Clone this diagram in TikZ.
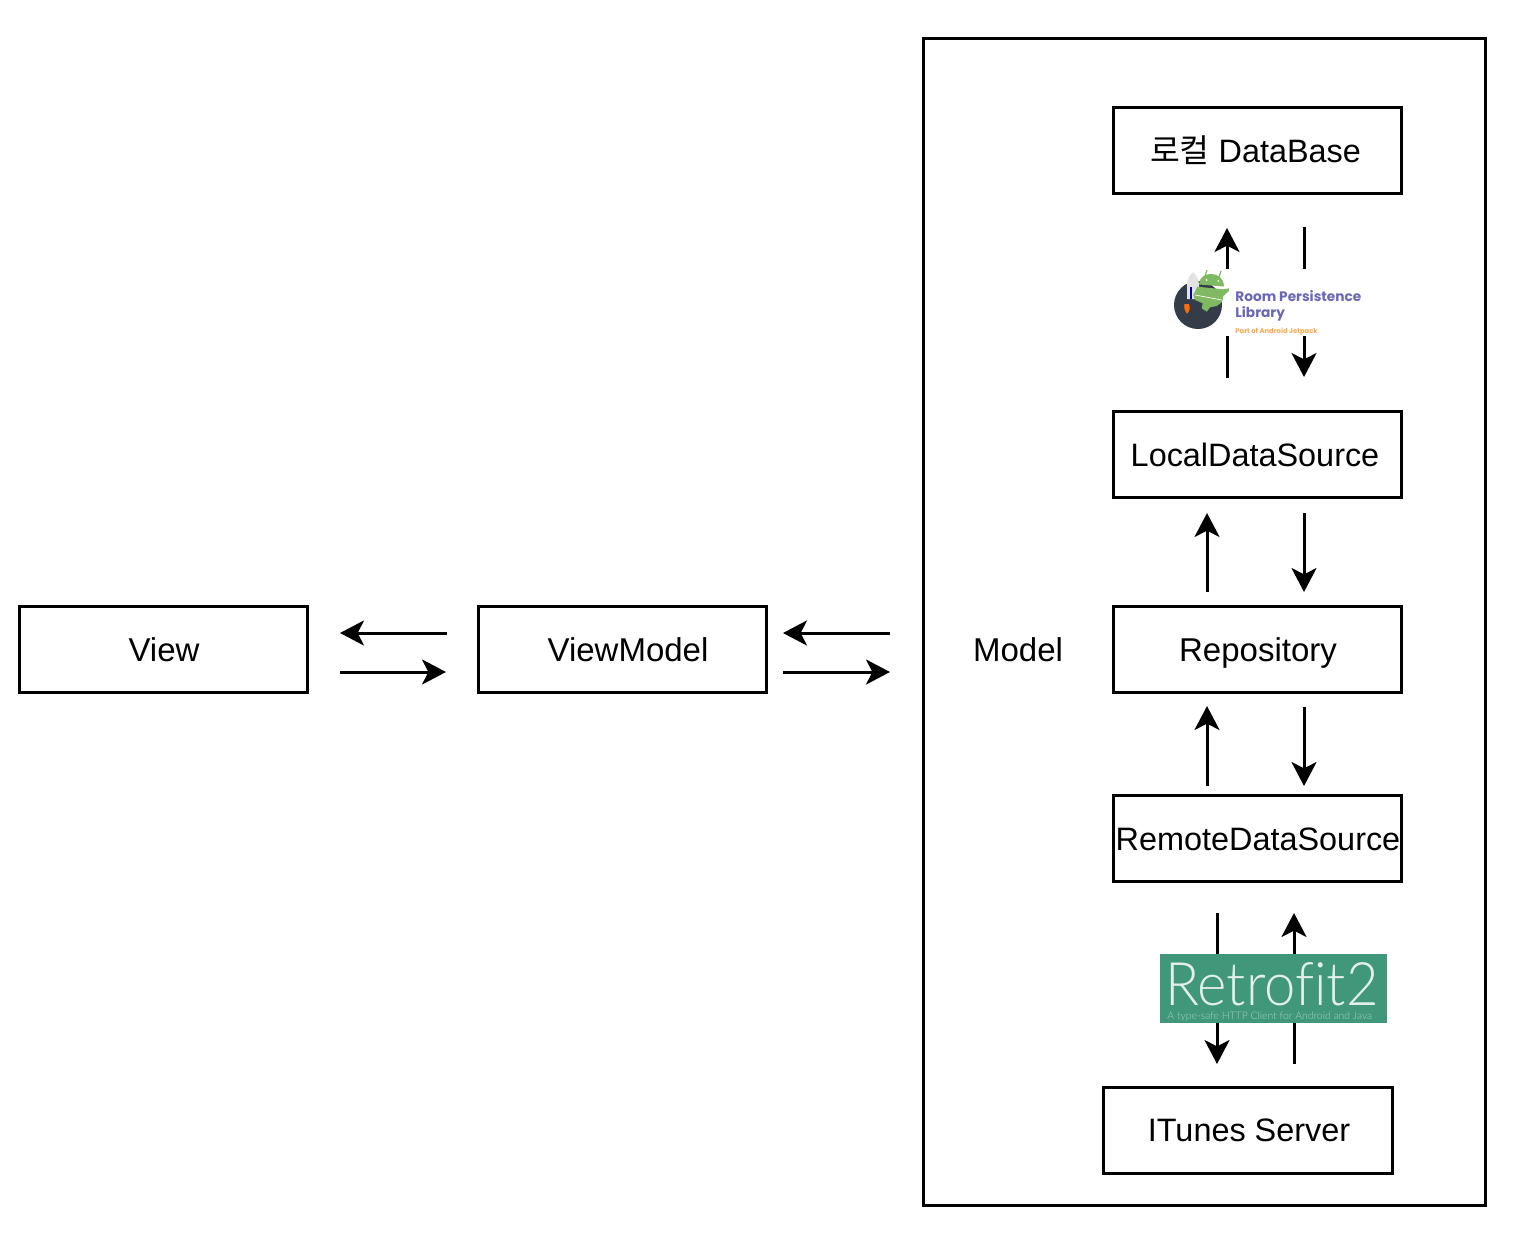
\documentclass[tikz,border=0pt]{standalone}
\usepackage{fontspec}
\setmainfont{Liberation Sans}
\newfontfamily\cjkfont{Noto Sans CJK KR}
\newfontfamily\popfont{Poppins}
\newfontfamily\latofont[Ligatures=NoCommon]{Lato Light}
\usetikzlibrary{arrows.meta}
\definecolor{retro}{HTML}{40977A}
\definecolor{roomtxt}{HTML}{6A68B5}
\definecolor{roomorg}{HTML}{F4A950}
\definecolor{droid}{HTML}{7FB961}
\definecolor{space}{HTML}{343C4A}
\tikzset{
  x=0.5pt,y=-0.5pt,
  boxnode/.style={draw=black,line width=1.5pt,minimum width=144.2pt,minimum height=43pt,inner sep=0pt,outer sep=0pt},
  lbl/.style={font=\fontsize{16.5pt}{20pt}\selectfont,inner sep=0pt,text=black,anchor=base},
  lbls/.style={font=\fontsize{16.2pt}{20pt}\selectfont,inner sep=0pt,text=black,anchor=base},
  flow/.style={line width=1.5pt,draw=black,-{Stealth[length=12pt,width=12.5pt,inset=3.2pt]}}
}
\begin{document}
\begin{tikzpicture}
\useasboundingbox (0,0) rectangle (1518,1242);
\fill[white] (0,0) rectangle (1518,1242);
% frame
\node[draw=black,line width=1.5pt,minimum width=281.2pt,minimum height=583.5pt,inner sep=0pt,outer sep=0pt] (frame) at (1204.5,621.5) {};
% boxes
\node[boxnode] (view) at (163.5,649) {};
\node[boxnode] (vm) at (622.5,649) {};
\node[boxnode] (db) at (1257.5,150) {};
\node[boxnode] (local) at (1257.5,454) {};
\node[boxnode] (repo) at (1257.5,649) {};
\node[boxnode] (remote) at (1257.5,838) {};
\node[boxnode] (itunes) at (1248,1130) {};
% labels
\node[lbl] (tview) at (164,661) {View};
\node[lbl] (tvm) at (628,661) {ViewModel};
\node[lbl] (tmodel) at (1018,661) {Model};
\node[lbls] (tdb) at (1255.5,162) {{\cjkfont 로컬} DataBase};
\node[lbls] (tlocal) at (1255,466) {LocalDataSource};
\node[lbl] (trepo) at (1258,661) {Repository};
\node[lbls] (tremote) at (1258,850) {RemoteDataSource};
\node[lbls] (titunes) at (1249,1141) {ITunes Server};
% free ends
\coordinate (a1s) at (447,633); \coordinate (a1e) at (340,633);
\coordinate (a2s) at (340,672); \coordinate (a2e) at (446,672);
\coordinate (a3s) at (890,633); \coordinate (a3e) at (783,633);
\coordinate (a4s) at (783,672); \coordinate (a4e) at (890,672);
\coordinate (b1s) at (1227,378); \coordinate (b1e) at (1227,228);
\coordinate (b2s) at (1304,227); \coordinate (b2e) at (1304,377);
\coordinate (c1s) at (1207,592); \coordinate (c1e) at (1207,513);
\coordinate (c2s) at (1304,513); \coordinate (c2e) at (1304,592);
\coordinate (d1s) at (1207,786); \coordinate (d1e) at (1207,706);
\coordinate (d2s) at (1304,707); \coordinate (d2e) at (1304,786);
\coordinate (e1s) at (1217,913); \coordinate (e1e) at (1217,1064);
\coordinate (e2s) at (1294,1064); \coordinate (e2e) at (1294,913);
\foreach \p in {a1,a2,a3,a4,b1,b2,c1,c2,d1,d2,e1,e2}
  \draw[flow] (\p s) -- (\p e);
% Room logo
\fill[white] (1170,269) rectangle (1366,336);
\fill[space] (1198,305) circle (24);
% rocket
\fill[white!78!gray] (1187,299) -- (1187,285) .. controls (1187,279) and (1190,275) .. (1193,272) .. controls (1196,275) and (1199,279) .. (1199,285) -- (1199,299) -- cycle;
\fill[blue!65!black] (1189.5,287) -- (1191.5,287) -- (1191.5,299) -- (1189.5,299) -- cycle;
\fill[orange!85!red] (1184.5,304) .. controls (1183.5,308) and (1185,311) .. (1187,314) .. controls (1189.5,311) and (1190.5,308) .. (1189,304) -- cycle;
% android
\fill[droid] (1199,284.5) .. controls (1199.5,277) and (1205,274) .. (1211,274) .. controls (1218,274) and (1223.5,278) .. (1224,286.5) -- cycle;
\draw[droid,line width=0.6pt] (1205,276) -- (1207,270) (1219,277) -- (1221,271);
\fill[droid] (1197.3,286.7) -- (1223.3,289.3) -- (1229.3,288.3) -- (1228.3,291.7) -- (1223.3,296) -- (1222.7,300)
  .. controls (1221,303) .. (1216.7,306) -- (1210,307.3) -- (1206.7,311.7) -- (1201.7,308.3) -- (1202.7,303.3) -- (1195,300) -- (1193.3,295) -- cycle;
\fill[white] (1206.7,280) circle (1) (1218.3,281) circle (1);
\draw[white,line width=0.35pt] (1195,295) -- (1222,300);
\node[inner sep=0pt,anchor=base west,font=\popfont\bfseries\fontsize{6.85pt}{8pt}\selectfont,text=roomtxt] (room1) at (1235,301) {Room Persistence};
\node[inner sep=0pt,anchor=base west,font=\popfont\bfseries\fontsize{6.85pt}{8pt}\selectfont,text=roomtxt] (room2) at (1235,317) {Library};
\node[inner sep=0pt,anchor=base west,font=\popfont\bfseries\fontsize{3.4pt}{4pt}\selectfont,text=roomorg] (room3) at (1235,333) {Part of Android Jetpack};
% Retrofit logo
\fill[retro] (1160,954) rectangle (1387,1023);
\node[inner sep=0pt,anchor=base west,xscale=0.935,font=\latofont\fontsize{30pt}{32pt}\selectfont,text=white!85!retro] (retro1) at (1165,1005) {Retrofit2};
\node[inner sep=0pt,anchor=base west,font=\latofont\fontsize{5.2pt}{6pt}\selectfont,text=white!55!retro] (retro2) at (1167,1019) {A type-safe HTTP Client for Android and Java};
\end{tikzpicture}
\end{document}
